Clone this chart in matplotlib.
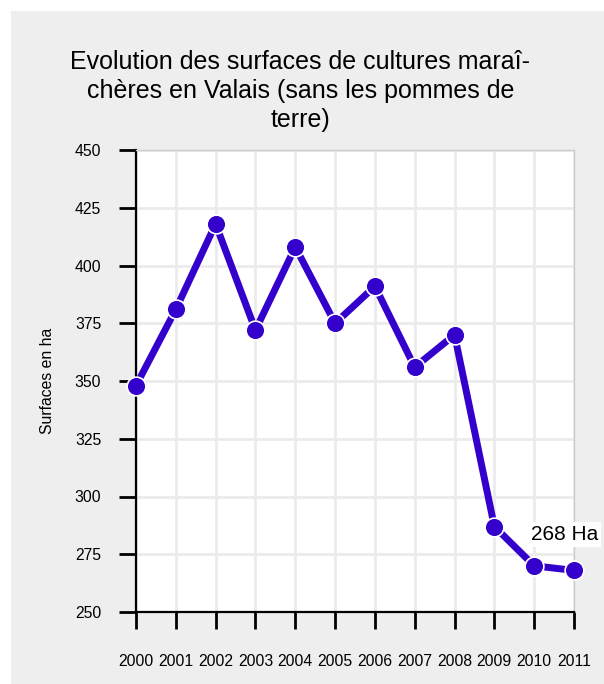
import numpy as np
import matplotlib.pyplot as plt
from matplotlib.patches import Rectangle

plt.rcParams['font.family'] = ['Liberation Sans', 'DejaVu Sans']

# Data
years = [2000, 2001, 2002, 2003, 2004, 2005, 2006, 2007, 2008, 2009, 2010, 2011]
surfaces = [348, 381, 418, 372, 408, 375, 391, 356, 370, 287, 270, 268]
y_ticks = [250, 275, 300, 325, 350, 375, 400, 425, 450]

title = "Evolution des surfaces de cultures maraî-\nchères en Valais (sans les pommes de\nterre)"
line_color = '#3300cc'

fig = plt.figure(figsize=(6.04, 6.84), dpi=100, facecolor='white')

# grey panel behind everything
fig.patches.append(Rectangle((11/604, 0), 1, 1 - 11/684, transform=fig.transFigure,
                             facecolor='#eeeeee', edgecolor='none', zorder=-10))

ax = fig.add_axes([136/604, 1 - 612/684, 438/604, 462/684])
ax.set_facecolor('white')

ax.plot(years, surfaces, color=line_color, lw=5, marker='o', ms=13.5,
        mfc=line_color, mec='white', mew=1.2, clip_on=False, zorder=3)

ax.set_xlim(2000, 2011)
ax.set_ylim(250, 450)
ax.set_xticks(years)
ax.set_yticks(y_ticks)
ax.grid(True, color='#ebebeb', lw=2)
ax.set_axisbelow(True)

for s in ['top', 'right']:
    ax.spines[s].set_color('#cccccc')
    ax.spines[s].set_linewidth(1)
for s in ['left', 'bottom']:
    ax.spines[s].set_color('black')
    ax.spines[s].set_linewidth(1.6)

ax.tick_params(axis='both', direction='out', length=12, width=2, labelsize=11.3,
               colors='black')
ax.tick_params(axis='y', pad=13)
ax.tick_params(axis='x', pad=18)

ax.set_ylabel('Surfaces en ha', fontsize=11.3, labelpad=14)

ax.annotate('268 Ha', xy=(years[-1], surfaces[-1]), xytext=(-7, 26),
            textcoords='offset points', ha='center', va='center', fontsize=15,
            bbox=dict(boxstyle='square,pad=0.15', fc='white', ec='none'),
            annotation_clip=False, zorder=5)

fig.text(0.497, 1 - 91/684, title, ha='center', va='center', fontsize=18,
         multialignment='center', linespacing=1.25)

fig.savefig('out.png', dpi=100, facecolor=fig.get_facecolor())
